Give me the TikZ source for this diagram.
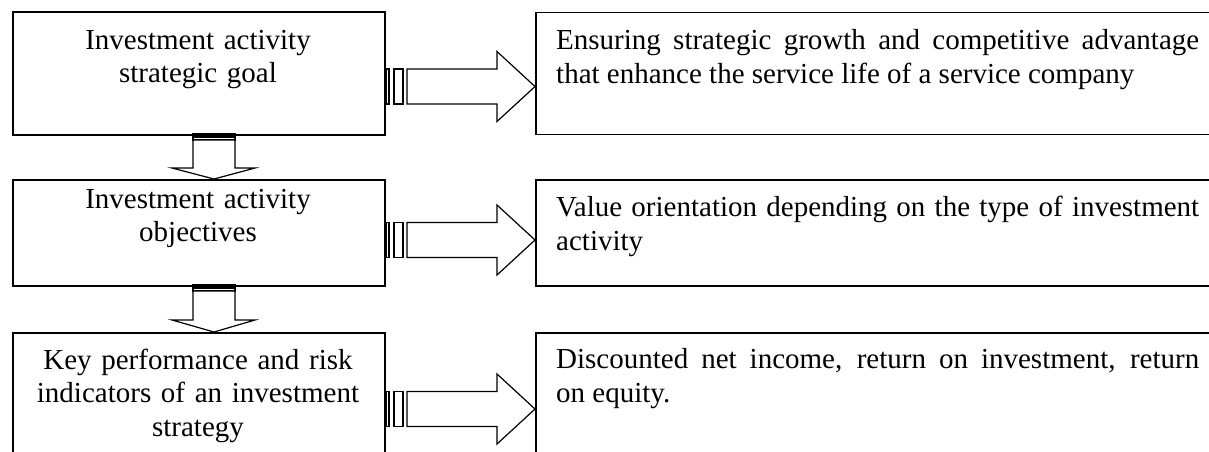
\documentclass[tikz,border=0pt]{standalone}
\usepackage{fontspec}
\setmainfont{Liberation Serif}
\newcommand\rblockarrow[1]{%
  \draw[blk] (386,#1-17.5) rectangle (389,#1+17.5);
  \draw[blk] (394,#1-17.5) rectangle (403,#1+17.5);
  \draw[blk] (407,#1-17.5) -- (497,#1-17.5) -- (497,#1-35) -- (535,#1)
     -- (497,#1+35) -- (497,#1+17.5) -- (407,#1+17.5) -- cycle;}
\newcommand\dblockarrow[3]{%
  \draw[blk] (193,#1) rectangle (235,#1+2);
  \draw[blk] (193,#1+3.5) rectangle (235,#1+6);
  \draw[blk] (193,#1+6) -- (193,#2) -- (172,#2) -- (214,#3) -- (255,#2)
     -- (235,#2) -- (235,#1+6) -- cycle;}
\begin{document}
\begin{tikzpicture}[x=1pt,y=-1pt,
  box/.style={draw,line width=1.8pt,inner sep=0pt,anchor=north west},
  ltext/.style={anchor=base,text width=372pt,align=center,font=\fontsize{29}{33.5}\selectfont,inner sep=0pt},
  rtext/.style={anchor=base west,text width=643pt,align=justify,font=\fontsize{29}{34}\selectfont,inner sep=0pt},
  blk/.style={draw,line width=1.2pt,fill=white,line join=miter}]
\useasboundingbox (0,0) rectangle (1209,451);
\clip (0,0) rectangle (1209,451);
% left boxes
\node[box,minimum width=372pt,minimum height=123pt] (b1) at (12,11) {};
\node[box,minimum width=372pt,minimum height=106pt] (b2) at (12,179) {};
\node[box,minimum width=372pt,minimum height=140pt] (b3) at (12,332) {};
% right boxes
\node[box,minimum width=690pt,minimum height=122pt] (r1) at (535,11.5) {};
\node[box,minimum width=690pt,minimum height=106pt] (r2) at (535,179) {};
\node[box,minimum width=690pt,minimum height=140pt] (r3) at (535,332) {};
% block arrows
\rblockarrow{86.5}
\rblockarrow{240}
\rblockarrow{409}
\dblockarrow{134}{168}{179}
\dblockarrow{285}{320}{332}
% texts
\node[ltext] (t1) at (198,49) {Investment activity\\strategic goal};
\node[ltext] (t2) at (198,208) {Investment activity\\objectives};
\node[ltext] (t3) at (198,369) {Key performance and risk\\indicators of an investment\\strategy};
\node[rtext] (s1) at (556,49) {Ensuring strategic growth and competitive advantage\linebreak that enhance the service life of a service company};
\node[rtext] (s2) at (556,216) {Value orientation depending on the type of investment\linebreak activity};
\node[rtext] (s3) at (556,368) {Discounted net income, return on investment, return\linebreak on equity.};
\end{tikzpicture}
\end{document}
